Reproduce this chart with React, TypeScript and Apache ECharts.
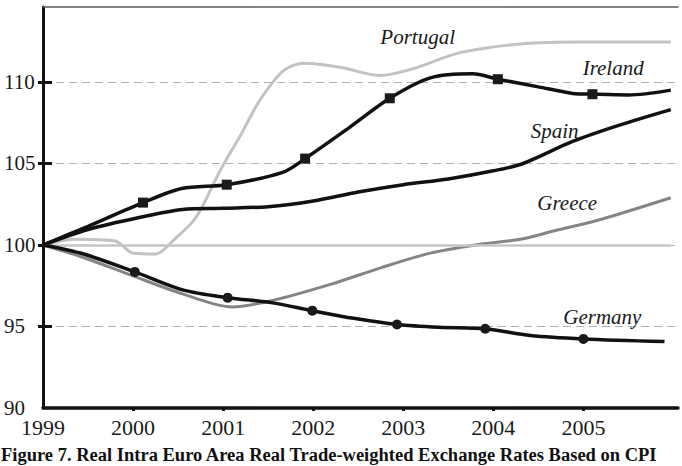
import React, { useEffect, useRef } from "react";
import * as echarts from "echarts";

// Index values, 1999 = 100, as [year, index] pairs
const portugal: [number, number][] = [
  [1999, 100], [1999.35, 100.35], [1999.8, 100.25], [2000.0, 99.5], [2000.25, 99.45],
  [2000.45, 100.3], [2000.7, 101.7], [2000.97, 104.6], [2001.2, 106.8], [2001.41, 108.9],
  [2001.67, 110.7], [2001.9, 111.15], [2002.3, 110.9], [2002.74, 110.4], [2003.1, 110.8],
  [2003.63, 111.8], [2004.33, 112.35], [2005.0, 112.45], [2005.97, 112.45],
];

const ireland: [number, number][] = [
  [1999, 100], [1999.5, 101.15], [2000.11, 102.6], [2000.54, 103.47], [2001.04, 103.7],
  [2001.66, 104.45], [2001.91, 105.3], [2002.4, 107.2], [2002.85, 109.0], [2003.3, 110.25],
  [2003.77, 110.5], [2004.05, 110.17], [2004.5, 109.7], [2004.88, 109.3], [2005.1, 109.25],
  [2005.5, 109.2], [2005.97, 109.5],
];
const irelandMarkers = [2000.11, 2001.04, 2001.91, 2002.85, 2004.05, 2005.1];

const spain: [number, number][] = [
  [1999, 100], [1999.5, 100.95], [2000.08, 101.7], [2000.55, 102.18], [2001.0, 102.25],
  [2001.5, 102.35], [2002.0, 102.7], [2002.5, 103.25], [2003.0, 103.7], [2003.5, 104.05],
  [2004.0, 104.55], [2004.33, 105.0], [2004.88, 106.35], [2005.4, 107.35], [2005.97, 108.3],
];

const greece: [number, number][] = [
  [1999, 100], [1999.44, 99.25], [2000.0, 98.1], [2000.55, 97.0], [2001.1, 96.2],
  [2001.55, 96.6], [2002.2, 97.6], [2002.75, 98.6], [2003.3, 99.5], [2003.8, 100.0],
  [2004.3, 100.35], [2004.7, 100.9], [2005.15, 101.5], [2005.97, 102.9],
];

const germany: [number, number][] = [
  [1999, 100], [1999.45, 99.45], [2000.02, 98.35], [2000.55, 97.25], [2001.05, 96.77],
  [2001.55, 96.45], [2001.99, 95.97], [2002.45, 95.5], [2002.93, 95.12], [2003.4, 94.95],
  [2003.91, 94.86], [2004.41, 94.45], [2005.0, 94.24], [2005.9, 94.08],
];
const germanyMarkers = [2000.02, 2001.05, 2001.99, 2002.93, 2003.91, 2005.0];

const yearTicks = [1999, 2000, 2001, 2002, 2003, 2004, 2005];
const yearTickMarks = [2000, 2001, 2002, 2003, 2004, 2005];
const valueTicks = [90, 95, 100, 105, 110];
const baseline = 100;

const title =
  "Figure 7. Real Intra Euro Area Real Trade-weighted Exchange Rates Based on CPI";

// Where each country's name sits, in [year, index] space
const nameAnchors: Record<string, [number, number]> = {
  Portugal: [2003.16, 112.76],
  Ireland: [2005.33, 110.85],
  Spain: [2004.68, 106.97],
  Greece: [2004.82, 102.55],
  Germany: [2005.21, 95.6],
};

const X_MIN = 1999;
const X_MAX = 2006.05;
const Y_MIN = 90;
const Y_MAX = 114.6;
const SERIF = "'Liberation Serif', 'DejaVu Serif', serif";

function withMarkers(points: [number, number][], markers: number[], symbol: string) {
  const set = new Set(markers);
  return points.map(([x, y]) => ({
    value: [x, y],
    symbol: set.has(x) ? symbol : "none",
  }));
}

function nameLabel(name: string) {
  return {
    silent: true,
    symbol: "circle",
    symbolSize: 1,
    itemStyle: { color: "rgba(0,0,0,0)" },
    label: {
      show: true,
      position: "inside",
      formatter: () => name,
      fontFamily: SERIF,
      fontStyle: "italic",
      fontSize: 21,
      color: "#1a1a1a",
    },
    data: [{ coord: nameAnchors[name] }],
  };
}

export default function App() {
  const ref = useRef<HTMLDivElement>(null);

  useEffect(() => {
    if (!ref.current) return;
    const chart = echarts.init(ref.current, undefined, { renderer: "svg" });

    const lineBase = {
      type: "line",
      xAxisIndex: 0,
      yAxisIndex: 0,
      smooth: 0.3,
      showSymbol: true,
      symbol: "none",
    };

    chart.setOption({
      animation: false,
      backgroundColor: "#ffffff",
      title: {
        text: title,
        left: 1,
        top: 446,
        padding: 0,
        textStyle: {
          fontFamily: SERIF,
          fontWeight: "bold",
          fontSize: 18.5,
          lineHeight: 18,
          color: "#111",
        },
      },
      grid: { left: 43, right: 4, top: 7, bottom: 58, containLabel: false },
      xAxis: [
        {
          type: "value",
          position: "bottom",
          min: X_MIN,
          max: X_MAX,
          interval: 1,
          axisLine: { show: true, lineStyle: { color: "#111", width: 3.5 } },
          axisTick: {
            show: true,
            length: 3,
            customValues: yearTickMarks,
            lineStyle: { color: "#111", width: 3 },
          },
          axisLabel: {
            customValues: yearTicks,
            margin: 8,
            fontFamily: SERIF,
            fontSize: 22,
            color: "#1a1a1a",
            formatter: (v: number) => String(Math.round(v)),
          },
          splitLine: { show: false },
        },
        {
          type: "value",
          position: "top",
          min: X_MIN,
          max: X_MAX,
          axisLine: { show: true, lineStyle: { color: "#5a5a5a", width: 1.5 } },
          axisTick: { show: false },
          axisLabel: { show: false },
          splitLine: { show: false },
        },
      ],
      yAxis: [
        {
          type: "value",
          position: "left",
          min: Y_MIN,
          max: Y_MAX,
          interval: 5,
          axisLine: { show: true, lineStyle: { color: "#111", width: 3 } },
          axisTick: {
            show: true,
            inside: true,
            length: 9,
            customValues: valueTicks.slice(1),
            lineStyle: { color: "#111", width: 3 },
          },
          axisLabel: {
            customValues: valueTicks,
            align: "left",
            margin: 39,
            fontFamily: SERIF,
            fontSize: 21,
            color: "#1a1a1a",
          },
          splitLine: {
            show: true,
            lineStyle: { color: "#b0b0b0", width: 1, type: [8, 5] },
          },
        },
        {
          // short outward half of the value ticks
          type: "value",
          position: "right",
          offset: -635,
          min: Y_MIN,
          max: Y_MAX,
          interval: 5,
          axisLine: { show: false },
          axisTick: {
            show: true,
            inside: true,
            length: 5,
            customValues: valueTicks.slice(1),
            lineStyle: { color: "#111", width: 3 },
          },
          axisLabel: { show: false },
          splitLine: { show: false },
        },
      ],
      series: [
        {
          ...lineBase,
          name: "Portugal",
          z: 2,
          color: "#c2c2c2",
          lineStyle: { color: "#c2c2c2", width: 3 },
          data: portugal,
          markLine: {
            silent: true,
            symbol: "none",
            label: { show: false },
            lineStyle: { color: "#c6c6c6", width: 2.5, type: "solid" },
            data: [[{ coord: [X_MIN, baseline] }, { coord: [2005.97, baseline] }]],
          },
          markPoint: nameLabel("Portugal"),
        },
        {
          ...lineBase,
          name: "Greece",
          z: 3,
          color: "#858585",
          lineStyle: { color: "#858585", width: 3 },
          data: greece,
          markPoint: nameLabel("Greece"),
        },
        {
          ...lineBase,
          name: "Spain",
          z: 4,
          color: "#111",
          lineStyle: { color: "#111", width: 3.5 },
          data: spain,
          markPoint: nameLabel("Spain"),
        },
        {
          ...lineBase,
          name: "Ireland",
          z: 5,
          color: "#111",
          symbolSize: 10,
          itemStyle: { color: "#1a1a1a" },
          lineStyle: { color: "#111", width: 3.5 },
          data: withMarkers(ireland, irelandMarkers, "rect"),
          markPoint: nameLabel("Ireland"),
        },
        {
          ...lineBase,
          name: "Germany",
          z: 5,
          color: "#111",
          symbolSize: 10,
          itemStyle: { color: "#1a1a1a" },
          lineStyle: { color: "#111", width: 3.5 },
          data: withMarkers(germany, germanyMarkers, "circle"),
          markPoint: nameLabel("Germany"),
        },
      ],
    });

    return () => chart.dispose();
  }, []);

  return (
    <div
      ref={ref}
      style={{ position: "fixed", left: 0, top: 0, width: 682, height: 466 }}
    />
  );
}
